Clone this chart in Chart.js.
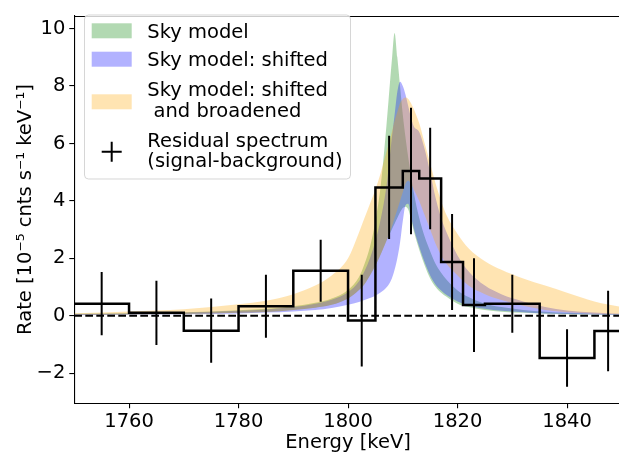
<!DOCTYPE html>
<html><head><meta charset="utf-8">
<script src="https://cdn.jsdelivr.net/npm/chart.js"></script>
<style>
html,body{margin:0;padding:0;background:#fff;overflow:hidden;width:619px;height:455px;}
canvas{display:block;}
</style></head>
<body>
<canvas id="c" width="623" height="455"></canvas>
<script>
// ---- data ----
const energyGrid = [1750,1760,1770,1780,1785,1790,1794,1797,1800,1802,1803,1804,1805,1806,1807,1808,1808.5,1809,1809.5,1810,1810.5,1811,1811.5,1812,1813,1814,1815,1816,1817,1818,1820,1822,1825,1828,1832,1836,1840,1845,1850];
const skyUpper   = [0.07,0.09,0.12,0.19,0.24,0.33,0.45,0.6,0.9,1.35,1.8,2.4,3.3,4.6,6.6,8.9,9.85,9.0,8.0,7.0,6.2,5.5,4.9,4.3,3.4,2.75,2.25,1.8,1.5,1.25,0.88,0.65,0.42,0.3,0.2,0.14,0.1,0.07,0.05];
const skyLower   = [0.03,0.04,0.06,0.1,0.13,0.2,0.28,0.38,0.6,0.9,1.1,1.4,1.75,2.15,2.6,3.0,3.2,3.4,3.6,3.75,3.8,3.7,3.35,2.95,2.3,1.75,1.3,1.0,0.8,0.66,0.42,0.3,0.2,0.14,0.1,0.07,0.05,0.04,0.03];
const shiftUpper = [0.06,0.08,0.11,0.17,0.22,0.3,0.42,0.56,0.82,1.2,1.55,2.0,2.6,3.4,4.5,6.2,7.0,7.8,8.15,8.0,7.7,7.3,6.9,6.6,6.4,5.8,5.0,4.1,3.4,2.9,2.1,1.55,1.05,0.75,0.5,0.3,0.18,0.11,0.07];
const shiftLower = [0.02,0.03,0.05,0.08,0.11,0.15,0.2,0.27,0.38,0.48,0.55,0.62,0.7,0.82,0.98,1.3,1.6,2.0,2.55,3.3,3.85,3.9,3.45,3.05,2.4,1.85,1.4,1.08,0.88,0.72,0.5,0.36,0.24,0.17,0.12,0.08,0.06,0.04,0.03];
const broadUpper = [0.09,0.15,0.23,0.4,0.52,0.75,1.05,1.4,2.0,2.9,3.4,3.9,4.4,5.0,5.7,6.4,6.8,7.1,7.4,7.55,7.6,7.55,7.4,7.2,6.7,6.0,5.3,4.6,4.0,3.5,2.85,2.35,1.9,1.6,1.3,1.05,0.8,0.5,0.3];
const broadLower = [0.03,0.04,0.06,0.1,0.13,0.2,0.28,0.38,0.6,0.9,1.1,1.4,1.75,2.15,2.6,3.1,3.4,3.7,4.0,4.3,4.6,4.7,4.6,4.4,4.0,3.5,3.0,2.5,2.1,1.8,1.4,1.05,0.75,0.55,0.35,0.2,0.12,0.07,0.05];

const binEdges    = [1750,1760,1770,1780,1790,1800,1805,1810,1813,1817,1821,1825,1835,1845,1850];
const binCenters  = [1755,1765,1775,1785,1795,1802.5,1807.5,1811.5,1815,1819,1823,1830,1840,1847.5];
const residual    = [0.42,0.1,-0.52,0.33,1.57,-0.17,4.47,5.04,4.78,1.87,0.37,0.42,-1.47,-0.53];
const residualErr = [1.1,1.12,1.12,1.1,1.08,1.6,1.8,2.2,1.77,1.67,1.63,1.01,1.0,1.4];

const xTicks = [1760,1780,1800,1820,1840];
const yTicks = [-2,0,2,4,6,8,10];
const xRange = [1750,1850];
const yRange = [-3.05,10.45];

const legendLabels = ['Sky model','Sky model: shifted','Sky model: shifted\n and broadened','Residual spectrum\n(signal-background)'];
const xTitle = 'Energy [keV]';
const yTitle = 'Rate [10\u207B\u2075 cnts s\u207B\u00B9 keV\u207B\u00B9]';

// ---- styling ----
const FONT = 'DejaVu Sans';
const FS = 19.5;
const cGreen = 'rgba(0,128,0,0.3)';
const cBlue = 'rgba(0,0,255,0.3)';
const cOrange = 'rgba(255,165,0,0.3)';

const pts = (xs, ys) => xs.map((x, i) => ({x: x, y: ys[i]}));
const stepPts = [];
residual.forEach((v, i) => {
  stepPts.push({x: binEdges[i], y: v});
  stepPts.push({x: binEdges[i + 1], y: v});
});
const errPts = [];
binCenters.forEach((c, i) => {
  errPts.push({x: c, y: residual[i] - residualErr[i]});
  errPts.push({x: c, y: residual[i] + residualErr[i]});
  errPts.push({x: c, y: null});
});
const zeroPts = [{x: xRange[0], y: 0}, {x: xRange[1], y: 0}];

const band = (label, data, fill, color, order) => ({
  label: label, data: data, fill: fill, backgroundColor: color,
  borderColor: 'rgba(0,0,0,0)', borderWidth: 0, pointRadius: 0,
  cubicInterpolationMode: 'monotone', order: order
});

const framePlugin = {
  id: 'frame',
  afterDatasetsDraw(chart) {
    const a = chart.chartArea, ctx = chart.ctx;
    ctx.save();
    ctx.strokeStyle = '#000';
    ctx.lineWidth = 1.1;
    ctx.beginPath();
    ctx.moveTo(a.left, Math.round(a.top) + 0.5);
    ctx.lineTo(a.right, Math.round(a.top) + 0.5);
    ctx.lineTo(a.right, a.bottom);
    ctx.stroke();
    ctx.restore();
  }
};

const legendPlugin = {
  id: 'customLegend',
  afterDraw(chart) {
    const ctx = chart.ctx;
    ctx.save();
    const bx = 84.5, by = 15, bw = 266, bh = 164, r = 4;
    ctx.beginPath();
    ctx.moveTo(bx + r, by);
    ctx.lineTo(bx + bw - r, by); ctx.arcTo(bx + bw, by, bx + bw, by + r, r);
    ctx.lineTo(bx + bw, by + bh - r); ctx.arcTo(bx + bw, by + bh, bx + bw - r, by + bh, r);
    ctx.lineTo(bx + r, by + bh); ctx.arcTo(bx, by + bh, bx, by + bh - r, r);
    ctx.lineTo(bx, by + r); ctx.arcTo(bx, by, bx + r, by, r);
    ctx.closePath();
    ctx.fillStyle = 'rgba(255,255,255,0.8)';
    ctx.fill();
    ctx.strokeStyle = 'rgba(204,204,204,0.8)';
    ctx.lineWidth = 1;
    ctx.stroke();
    const patchColors = [cGreen, cBlue, cOrange];
    const patchY = [23.3, 51.7, 94.3];
    patchColors.forEach((c, i) => {
      ctx.fillStyle = c;
      ctx.fillRect(91.7, patchY[i], 40, 15);
    });
    ctx.strokeStyle = '#000';
    ctx.lineWidth = 2;
    ctx.beginPath();
    ctx.moveTo(101.7, 151.7); ctx.lineTo(121.7, 151.7);
    ctx.moveTo(111.7, 141.7); ctx.lineTo(111.7, 161.7);
    ctx.stroke();
    ctx.fillStyle = '#000';
    ctx.font = FS + 'px "' + FONT + '"';
    ctx.textBaseline = 'alphabetic';
    ctx.textAlign = 'left';
    const baselines = [[37.7], [66], [96, 116.7], [146.7, 166.5]];
    legendLabels.forEach((lab, i) => {
      lab.split('\n').forEach((ln, j) => {
        ctx.fillText(ln, 147.3, baselines[i][j]);
      });
    });
    ctx.restore();
  }
};

const chart = new Chart(document.getElementById('c'), {
  type: 'line',
  data: {
    datasets: [
      {label: 'Residual spectrum (signal-background)', data: stepPts, borderColor: '#000', borderWidth: 2.5, pointRadius: 0, fill: false, order: 0},
      {label: 'Residual errors', data: errPts, borderColor: '#000', borderWidth: 2, pointRadius: 0, fill: false, spanGaps: false, order: 1},
      {label: 'zero', data: zeroPts, borderColor: '#000', borderWidth: 1.8, borderDash: [7.7, 3.3], pointRadius: 0, fill: false, order: 2},
      band('Sky model: shifted and broadened', pts(energyGrid, broadUpper), '+1', cOrange, 3),
      band('broad lower', pts(energyGrid, broadLower), false, cOrange, 4),
      band('Sky model: shifted', pts(energyGrid, shiftUpper), '+1', cBlue, 5),
      band('shift lower', pts(energyGrid, shiftLower), false, cBlue, 6),
      band('Sky model', pts(energyGrid, skyUpper), '+1', cGreen, 7),
      band('sky lower', pts(energyGrid, skyLower), false, cGreen, 8)
    ]
  },
  options: {
    responsive: false,
    animation: false,
    layout: {padding: {top: 4.7, right: 1.2, left: 0, bottom: 0}},
    plugins: {legend: {display: false}, tooltip: {enabled: false}},
    scales: {
      x: {
        type: 'linear', min: xRange[0], max: xRange[1],
        afterBuildTicks: s => { s.ticks = xTicks.map(v => ({value: v})); },
        afterFit: s => { s.height = 51.7; },
        ticks: {color: '#000', font: {family: FONT, size: FS}, padding: 2, maxRotation: 0, autoSkip: false,
          callback: v => String(v)},
        grid: {display: true, drawOnChartArea: false, drawTicks: true, tickLength: 5, color: '#000', lineWidth: 1.1},
        border: {display: true, color: '#000', width: 1.1},
        title: {display: true, text: xTitle, color: '#000', font: {family: FONT, size: FS}, padding: {top: 0, bottom: 0}}
      },
      y: {
        type: 'linear', min: yRange[0], max: yRange[1],
        afterBuildTicks: s => { s.ticks = yTicks.map(v => ({value: v})); },
        afterFit: s => { s.width = 74.3; },
        ticks: {color: '#000', font: {family: FONT, size: FS}, padding: 4, autoSkip: false,
          callback: v => (v < 0 ? '\u2212' + Math.abs(v) : String(v))},
        grid: {display: true, drawOnChartArea: false, drawTicks: true, tickLength: 5, color: '#000', lineWidth: 1.1},
        border: {display: true, color: '#000', width: 1.1},
        title: {display: true, text: yTitle, color: '#000', font: {family: FONT, size: FS}, padding: {top: 14.6, bottom: 0}}
      }
    }
  },
  plugins: [framePlugin, legendPlugin]
});
</script>
</body></html>
